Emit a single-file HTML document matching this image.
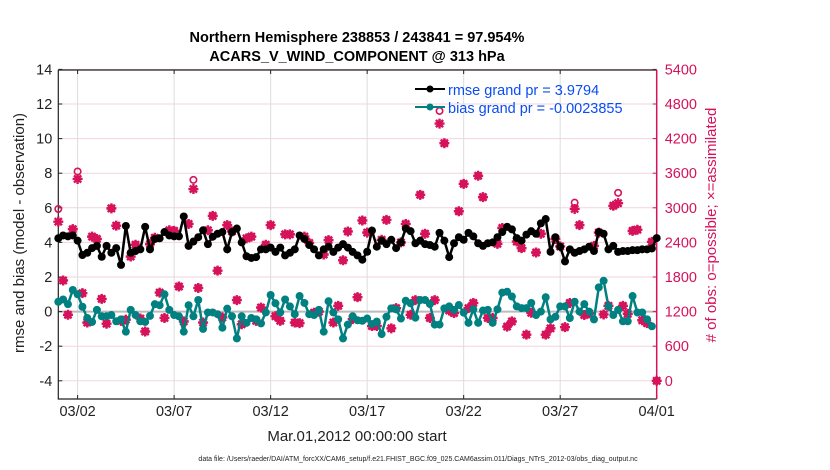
<!DOCTYPE html>
<html><head><meta charset="utf-8"><style>
body{margin:0;background:#fff}
svg{display:block;font-family:"Liberation Sans",sans-serif}
</style></head><body>
<svg id="c" width="830" height="470" viewBox="0 0 830 470">
<text x="357" y="42" text-anchor="middle" font-size="14.5" font-weight="bold">Northern Hemisphere 238853 / 243841 = 97.954%</text>
<text x="357" y="61" text-anchor="middle" font-size="14.5" font-weight="bold">ACARS_V_WIND_COMPONENT @ 313 hPa</text>
<g id="grid"></g><g id="axes"></g><g id="marks"></g>
<text transform="translate(24,233) rotate(-90)" text-anchor="middle" font-size="15" fill="#222">rmse and bias (model - observation)</text>
<text transform="translate(716,225) rotate(-90)" text-anchor="middle" font-size="15" fill="#d6125a"># of obs: o=possible; ×=assimilated</text>
<text x="357" y="441" text-anchor="middle" font-size="15" fill="#222">Mar.01,2012 00:00:00 start</text>
<text x="418" y="461" text-anchor="middle" font-size="7" fill="#222">data file: /Users/raeder/DAI/ATM_forcXX/CAM6_setup/f.e21.FHIST_BGC.f09_025.CAM6assim.011/Diags_NTrS_2012-03/obs_diag_output.nc</text>
<g>
<line x1="415" y1="89" x2="445" y2="89" stroke="#000" stroke-width="2"/><circle cx="430" cy="89" r="3.5" fill="#000"/>
<text x="448" y="95" font-size="14.5" fill="#0a4cf5">rmse grand pr = 3.9794</text>
<line x1="415" y1="107" x2="445" y2="107" stroke="#008080" stroke-width="2"/><circle cx="430" cy="107" r="3.5" fill="#008080"/>
<text x="448" y="113" font-size="14.5" fill="#0a4cf5">bias grand pr = -0.0023855</text>
</g>
</svg>
<script>
const rmse=[4.24,4.4,4.35,4.4,4.1,3.27,3.4,3.67,3.8,3.17,3.8,3.4,3.67,2.7,4.95,3.4,3.5,3.6,4.9,3.6,4.2,4.24,4.6,4.4,4.35,4.35,5.5,3.8,4.05,4.3,4.7,3.9,
4.33,4.5,4.6,3.6,4.6,4.8,4.0,3.2,3.1,3.15,3.6,3.6,3.7,3.45,3.7,3.25,3.4,3.6,4.4,4.2,3.85,3.6,3.25,3.6,3.75,3.45,3.7,3.9,3.7,3.45,3.25,
3.0,3.46,4.68,3.75,4.1,3.9,4.15,3.67,4.0,4.8,4.65,3.95,4.1,3.9,3.85,3.75,4.55,4.1,3.15,3.95,4.3,4.15,4.55,4.35,3.95,3.8,3.95,4.0,4.3,4.6,4.9,
4.75,4.25,4.1,4.45,4.65,4.5,5.1,5.35,3.46,4.3,3.75,2.9,3.6,3.4,3.5,3.6,3.75,3.5,4.6,4.5,3.6,3.8,3.45,3.5,3.5,3.55,3.55,3.6,3.6,3.65,4.25];
const bias=[0.57,0.7,0.43,1.25,1.0,0.28,-0.37,-0.6,0.1,-0.27,-0.27,-0.2,-0.56,-0.45,-1.16,0.1,-0.2,-0.56,-0.6,-0.25,0.43,0.37,1.0,0.1,-0.2,-0.27,-1.16,0.37,-0.27,0.67,-1.0,-0.05,
-0.05,-0.15,-0.93,0.17,-0.27,-1.55,-0.27,-0.65,-0.37,-0.45,-0.68,-0.05,0.96,0.48,-0.05,0.7,0.3,-0.15,0.9,0.5,-0.15,-0.2,0.1,-1.16,0.6,-0.05,-0.45,-1.55,-0.75,-0.27,-0.5,
-0.53,-0.4,-0.72,-0.58,-1.3,-0.3,0.19,0.13,-0.4,0.63,0.48,-0.35,0.67,0.67,0.44,-0.75,-0.75,0.19,0.3,0.1,0.38,-0.06,-0.65,0.13,-0.65,0.06,0.1,-0.65,0.13,1.1,1.15,
0.87,0.3,0.2,0.2,0.5,-0.2,0,0.83,-0.45,-0.3,0.3,0.3,-0.37,0.57,0,0.43,0,-0.45,1.4,1.78,0.3,-0.2,0.1,-0.56,-0.56,0.9,-0.05,-0.05,-0.45,-0.85];
const nAssim=[2760,1740,1145,2630,3500,1520,1010,2500,2460,1420,990,2990,2690,1040,1060,2155,2360,1080,855,2370,2480,1530,1090,2610,2600,1635,1030,2720,3325,1610,1010,2610,
2860,1910,1100,2700,2590,1400,980,2470,2500,1040,1270,2360,2700,1120,1040,2540,2540,1010,1000,2500,2390,1180,1200,2190,2440,1010,1300,2090,2590,1070,1450,
2780,2570,950,950,2445,2790,910,1260,2400,2720,1145,1400,3225,2550,1090,1400,4460,4120,1220,1175,2940,3415,1260,1350,3555,3185,1090,1090,2375,2650,940,
1030,2415,2300,800,1180,2225,2550,800,910,2460,2330,930,1350,2980,2700,1140,1170,2340,2570,1150,1300,3035,3080,1300,1160,2600,2620,1050,1000,2410,0];
const nExtra=[150,0,0,0,60,0,0,0,0,0,0,0,0,0,0,0,0,0,0,0,0,0,0,0,0,0,0,0,90,0,0,0,
0,0,0,0,0,0,0,0,0,0,0,0,0,0,0,0,0,0,0,0,0,0,0,0,0,0,0,0,0,0,0,
0,0,0,0,0,0,0,0,0,0,0,0,0,0,0,0,150,0,0,0,0,0,0,0,0,0,0,0,0,0,0,
0,0,0,0,0,0,0,0,0,0,0,0,0,40,0,0,0,0,0,0,0,0,110,0,0,0,0,0,0,0,0];
const nPoss=nAssim.map((v,i)=>v+nExtra[i]);
const leftTicks=[14,12,10,8,6,4,2,0,-2,-4];
const rightTicks=[5400,4800,4200,3600,3000,2400,1800,1200,600,0];
const dateTicks=["03/02","03/07","03/12","03/17","03/22","03/27","04/01"];
const dateDays=[1,6,11,16,21,26,31];
const X0=58.3,X1=656.7,YT=70,YB=399;
const xs=t=>X0+(t/31)*(X1-X0);
const ys=v=>311.6-v*17.3;
const yr=c=>ys(c/300-4);
const NS="http://www.w3.org/2000/svg";
function mk(tag,attrs,parent,text){const e=document.createElementNS(NS,tag);for(const k in attrs)e.setAttribute(k,attrs[k]);if(text!==undefined)e.textContent=text;parent.appendChild(e);return e;}
const grid=document.getElementById('grid'),axes=document.getElementById('axes'),marks=document.getElementById('marks');
leftTicks.forEach(v=>{
 const g=mk('line',{x1:X0,x2:X1,y1:ys(v),y2:ys(v),stroke:'#f2d3de','stroke-width':1},grid);
 
 
 mk('line',{x1:X0,x2:X0+4,y1:ys(v),y2:ys(v),stroke:'#222'},axes);
 const t=mk('text',{x:X0-6,y:ys(v)+5,'text-anchor':'end','font-size':14.5,fill:'#222'},axes,String(v));
 
 
});
rightTicks.forEach(c=>{
 mk('line',{x1:X1-4,x2:X1,y1:yr(c),y2:yr(c),stroke:'#d6125a'},axes);
 const t=mk('text',{x:X1+8,y:yr(c)+5,'font-size':14.5,fill:'#d6125a'},axes,String(c));
 
 
});
dateTicks.forEach((d,i)=>{
 const x=xs(dateDays[i]);
 const g=mk('line',{x1:x,x2:x,y1:YT,y2:YB,stroke:'#ddd'},grid);
 
 
 mk('line',{x1:x,x2:x,y1:YB-4,y2:YB,stroke:'#222'},axes);
 mk('line',{x1:x,x2:x,y1:YT,y2:YT+4,stroke:'#222'},axes);
 const t=mk('text',{x:x,y:YB+17,'text-anchor':'middle','font-size':14.5,fill:'#222'},axes,d);
 
 
});
const zl=mk('line',{x1:X0,x2:X1,y1:ys(0),y2:ys(0),stroke:'#bbb','stroke-width':2},grid);


const fr=mk('path',{d:`M${X0},${YT}H${X1}M${X0},${YT}V${YB}H${X1}`,fill:'none',stroke:'#222','stroke-width':1.2},axes);


const ra=mk('line',{x1:X1,x2:X1,y1:YT,y2:YB,stroke:'#d6125a','stroke-width':1.5},axes);


nAssim.forEach((c,i)=>{
 const x=xs(i/4),y=yr(c),yp=yr(nPoss[i]);
 const o=mk('circle',{cx:x,cy:yp-(nExtra[i]>0?4:0),r:3.2,fill:'none',stroke:'#d6125a','stroke-width':1.6},marks);
 
 
 const s=mk('path',{d:`M${x-5},${y}H${x+5}M${x},${y-5}V${y+5}M${x-3.6},${y-3.6}L${x+3.6},${y+3.6}M${x+3.6},${y-3.6}L${x-3.6},${y+3.6}`,stroke:'#d6125a','stroke-width':2.4},marks);
 
 
});
function series(arr,col,name){
 const p=mk('polyline',{points:arr.map((v,i)=>xs(i/4)+','+ys(v)).join(' '),fill:'none',stroke:col,'stroke-width':2.5},marks);
 
 
 arr.forEach((v,i)=>{
  const c=mk('circle',{cx:xs(i/4),cy:ys(v),r:4,fill:col},marks);
  
  
 });
}
series(rmse,'#000','rmse');
series(bias,'#008080','bias');
</script>
</body></html>
